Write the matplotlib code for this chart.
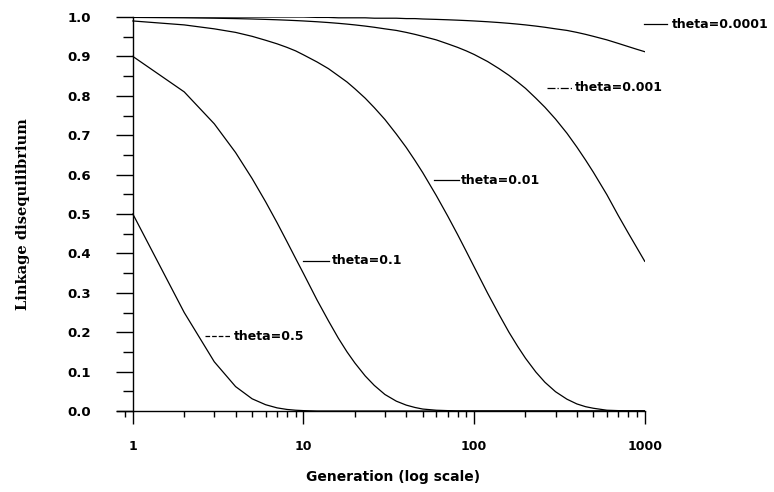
import numpy as np
import matplotlib.pyplot as plt
from matplotlib.ticker import LogLocator, MultipleLocator, FixedLocator, NullFormatter

# --- generaciones y valores ---
generations = [1, 2, 3, 4, 5, 6, 7, 8, 9, 10, 12, 14, 16, 18, 20, 23, 26, 30, 35,
               40, 45, 50, 60, 70, 80, 90, 100, 120, 140, 160, 180, 200, 230, 260,
               300, 350, 400, 450, 500, 600, 700, 800, 900, 1000]

ld_theta_05 = [0.5, 0.25, 0.125, 0.062, 0.031, 0.016, 0.008, 0.004, 0.002, 0.001,
               0.0, 0.0, 0.0, 0.0, 0.0, 0.0, 0.0, 0.0, 0.0, 0.0, 0.0, 0.0, 0.0,
               0.0, 0.0, 0.0, 0.0, 0.0, 0.0, 0.0, 0.0, 0.0, 0.0, 0.0, 0.0, 0.0,
               0.0, 0.0, 0.0, 0.0, 0.0, 0.0, 0.0, 0.0]
ld_theta_01 = [0.9, 0.81, 0.729, 0.656, 0.59, 0.531, 0.478, 0.43, 0.387, 0.349,
               0.282, 0.229, 0.185, 0.15, 0.122, 0.089, 0.065, 0.042, 0.025,
               0.015, 0.009, 0.005, 0.002, 0.001, 0.0, 0.0, 0.0, 0.0, 0.0, 0.0,
               0.0, 0.0, 0.0, 0.0, 0.0, 0.0, 0.0, 0.0, 0.0, 0.0, 0.0, 0.0, 0.0, 0.0]
ld_theta_001 = [0.99, 0.98, 0.97, 0.961, 0.951, 0.941, 0.932, 0.923, 0.914, 0.904,
                0.886, 0.869, 0.851, 0.835, 0.818, 0.794, 0.77, 0.74, 0.703, 0.669,
                0.636, 0.605, 0.547, 0.495, 0.448, 0.405, 0.366, 0.299, 0.245,
                0.2, 0.164, 0.134, 0.099, 0.073, 0.049, 0.03, 0.018, 0.011, 0.007,
                0.002, 0.001, 0.0, 0.0, 0.0]
ld_theta_0001 = [0.999, 0.998, 0.997, 0.996, 0.995, 0.994, 0.993, 0.992, 0.991,
                 0.99, 0.988, 0.986, 0.984, 0.982, 0.98, 0.977, 0.974, 0.97, 0.966,
                 0.961, 0.956, 0.951, 0.942, 0.932, 0.923, 0.914, 0.905, 0.887,
                 0.869, 0.852, 0.835, 0.819, 0.794, 0.771, 0.741, 0.705, 0.67,
                 0.637, 0.606, 0.549, 0.496, 0.452, 0.414, 0.38]
ld_theta_00001 = [1.0, 1.0, 1.0, 1.0, 1.0, 1.0, 1.0, 1.0, 1.0, 1.0, 0.999, 0.999,
                  0.998, 0.998, 0.998, 0.998, 0.997, 0.997, 0.997, 0.996, 0.996,
                  0.995, 0.994, 0.993, 0.992, 0.991, 0.99, 0.988, 0.986, 0.984,
                  0.982, 0.98, 0.977, 0.974, 0.97, 0.966, 0.961, 0.956, 0.951,
                  0.942, 0.933, 0.925, 0.918, 0.912]

series = [ld_theta_05, ld_theta_01, ld_theta_001, ld_theta_0001, ld_theta_00001]
labels = ["theta=0.5", "theta=0.1", "theta=0.01", "theta=0.001", "theta=0.0001"]

fig = plt.figure(figsize=(7.74, 4.92), dpi=100)
ax = fig.add_axes([0.151, 0.1646, 0.682, 0.8008])

for y in series:
    ax.plot(generations, y, color='black', linewidth=0.9)

ax.set_xscale('log')
ax.set_xlim(0.806, 1000)
ax.set_ylim(0, 1.0)

# --- ejes estilo figura escaneada ---
ax.spines['top'].set_visible(False)
ax.spines['right'].set_visible(False)
ax.spines['left'].set_position(('data', 1))
ax.spines['left'].set_bounds(0, 1.0)
ax.spines['bottom'].set_bounds(0.806, 1000)
for s in ['left', 'bottom']:
    ax.spines[s].set_linewidth(1.0)

ax.xaxis.set_major_locator(FixedLocator([1, 10, 100, 1000]))
ax.xaxis.set_minor_locator(LogLocator(base=10, subs=np.arange(2, 10)))
ax.xaxis.set_minor_formatter(NullFormatter())
ax.set_xticklabels(["1", "10", "100", "1000"])
ax.yaxis.set_major_locator(MultipleLocator(0.1))
ax.yaxis.set_minor_locator(MultipleLocator(0.05))
ax.yaxis.set_major_formatter(plt.FuncFormatter(lambda v, p: "%.1f" % v))

ax.tick_params(axis='x', which='major', direction='out', length=9, width=1,
               pad=12, labelsize=9)
ax.tick_params(axis='x', which='minor', direction='out', length=4.5, width=1)
ax.tick_params(axis='y', which='major', direction='out', length=12, width=1,
               pad=18, labelsize=9.5)
ax.tick_params(axis='y', which='minor', direction='out', length=7, width=1)
for t in ax.get_xticklabels() + ax.get_yticklabels():
    t.set_fontweight('bold')

ax.set_xlabel("Generation (log scale)", fontsize=10, fontweight='bold')
ax.set_ylabel("Linkage disequilibrium", fontsize=10.5, fontweight='bold',
              family='DejaVu Serif')
ax.xaxis.set_label_coords(0.523, -0.15)
ax.yaxis.set_label_coords(-0.165, 0.5)

# --- etiquetas con linea guia ---
etiquetas = [
    (2.64, 3.69, 3.9, 0.19, '--'),
    (9.9, 14.2, 14.6, 0.381, '-'),
    (58.3, 81.7, 84.0, 0.586, '-'),
    (267, 374, 390, 0.82, '-.'),
    (986, 1345, 1438, 0.982, '-'),
]
for lab, (x0, x1, xt, yt, ls) in zip(labels, etiquetas):
    ax.plot([x0, x1], [yt, yt], color='black', linewidth=0.9, linestyle=ls,
            clip_on=False)
    ax.text(xt, yt, lab, fontsize=9, fontweight='bold', va='center', ha='left',
            clip_on=False)

plt.savefig('out.png', dpi=100)
